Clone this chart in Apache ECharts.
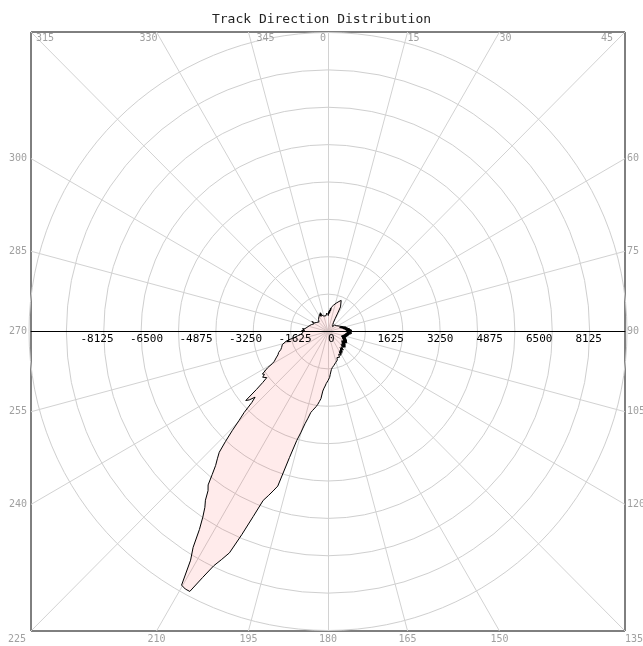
<!DOCTYPE html>
<html>
<head>
<meta charset="utf-8">
<script src="https://cdn.jsdelivr.net/npm/echarts@6/dist/echarts.min.js"></script>
<style>
html,body{margin:0;padding:0;background:#fff;}
#chart{width:643px;height:646px;}
</style>
</head>
<body>
<div id="chart"></div>
<script>
// ---------- data ----------
const chartTitle = 'Track Direction Distribution';
// one value per 1-degree direction bin, 0..359 (clockwise from north)
const counts = [
 600,520,650,580,700,620,760,680,800,740,
 820,780,880,840,920,900,960,940,1000,980,
 1040,1060,1080,1100,1120,1140,1120,900,650,480,
 420,350,400,300,360,280,330,260,310,240,
 290,230,280,220,270,250,300,240,280,230,
 300,260,320,250,310,270,340,280,330,290,
 360,300,380,320,400,330,420,350,450,380,
 480,400,520,420,560,450,600,480,620,500,
 650,520,700,560,720,580,760,600,780,620,
 800,640,760,620,780,600,740,580,700,560,
 680,540,660,520,640,500,620,480,600,460,
 620,480,640,500,660,520,680,540,700,560,
 720,580,700,560,680,540,700,560,720,580,
 740,600,760,620,740,600,720,640,760,660,
 780,680,760,660,800,700,820,720,840,740,
 860,760,880,800,900,820,920,860,940,880,
 960,900,980,940,1000,980,1040,1020,1080,1060,
 1120,1100,1160,1180,1220,1250,1300,1400,1500,1550,
 1600,1650,1700,1780,1850,1950,2200,2300,2400,2480,
 2550,2620,2700,2900,3100,3400,3700,4300,5300,5500,
 5700,5900,6500,7200,7900,8200,8500,9000,9600,9600,
 9550,8700,8300,7700,7300,7000,6800,6500,6350,6000,
 5700,5500,5300,4900,4500,4100,3800,3400,3200,3400,
 3500,3000,2700,2500,2500,2600,2500,2550,2530,2300,
 2100,2000,1950,1900,1850,1800,1780,1750,1700,1650,
 1600,1600,1580,1560,1550,1550,1500,1400,1300,1200,
 1100,1050,1000,950,900,850,880,820,860,800,
 840,780,860,760,820,800,840,760,800,720,
 780,700,760,680,740,660,720,640,700,620,
 680,600,660,580,640,560,620,540,600,520,
 580,540,620,520,600,500,580,480,560,470,
 540,460,520,450,510,440,500,430,500,420,
 490,430,500,440,520,450,540,460,560,480,
 580,500,600,520,620,540,640,560,660,580,
 640,560,620,540,600,520,580,500,560,480,
 540,500,560,520,580,540,600,560,620,580
];
const angleTicks = [0,15,30,45,60,75,90,105,120,135,150,165,180,195,210,225,240,255,270,285,300,315,330,345];
const radiusMax = 9750;
const radiusLabelStep = 1625;
const ringStep = 1218.75;

// ---------- helpers ----------
function edgePoint(deg){
  const t = deg*Math.PI/180, s = Math.sin(t), c = Math.cos(t);
  const m = Math.max(Math.abs(s), Math.abs(c));
  return [radiusMax*s/m, radiusMax*c/m];
}
function placement(deg){
  if (deg === 0)   return {align:'right', verticalAlign:'top', offset:[-2,1]};
  if (deg === 45)  return {align:'right', verticalAlign:'top', offset:[-12,1]};
  if (deg === 315) return {align:'left',  verticalAlign:'top', offset:[5,1]};
  if (deg === 330) return {align:'right', verticalAlign:'top', offset:[1,1]};
  if (deg === 345) return {align:'left',  verticalAlign:'top', offset:[8,1]};
  if (deg > 0 && deg < 45) return {align:'left', verticalAlign:'top', offset:[0,1]};
  if (deg > 45 && deg < 135) return {align:'left', verticalAlign:'middle', offset:[2,0]};
  if (deg === 135) return {align:'left', verticalAlign:'top', offset:[0,3]};
  if (deg > 135 && deg < 225) return {align:'center', verticalAlign:'top', offset:[0,3]};
  if (deg === 225) return {align:'right', verticalAlign:'top', offset:[-5,3]};
  return {align:'right', verticalAlign:'middle', offset:[-4,0]};
}

const polarData = counts.map((v,i)=>[v,i]);
polarData.push([counts[0],360]);

const spokeData = angleTicks.map(d=>({coords:[[0,0], edgePoint(d)]}));
const angleLabelData = angleTicks.map(d=>{
  const p = placement(d);
  return {value: edgePoint(d), name: String(d),
    label: {show:true, position:'inside', formatter:String(d), align:p.align, verticalAlign:p.verticalAlign, offset:p.offset,
      fontFamily:'DejaVu Sans Mono', fontSize:10, color:'#888888'}};
});

const gridH = 599;
const chart = echarts.init(document.getElementById('chart'), null, {renderer:'canvas'});
chart.setOption({
  animation:false,
  backgroundColor:'#ffffff',
  title:{text:chartTitle, left:'center', top:13, padding:0,
    textStyle:{fontFamily:'DejaVu Sans Mono', fontSize:13, fontWeight:'normal', color:'#222'}},
  grid:{left:31, top:32, width:594, height:gridH, show:true, borderColor:'#000', borderWidth:1, backgroundColor:'transparent'},
  xAxis:{type:'value', min:-radiusMax, max:radiusMax, interval:radiusLabelStep, position:'bottom', offset:-gridH/2, z:10,
    axisLine:{show:true, onZero:false, lineStyle:{color:'#000', width:1}},
    axisTick:{show:false}, splitLine:{show:false},
    axisLabel:{show:true, align:'left', margin:2, showMinLabel:false, showMaxLabel:false,
      formatter:function(v){return String(v);},
      fontFamily:'DejaVu Sans Mono', fontSize:11, color:'#000'}},
  yAxis:{type:'value', min:-radiusMax, max:radiusMax, show:true,
    axisLine:{show:false}, axisTick:{show:false}, axisLabel:{show:false}, splitLine:{show:false}},
  polar:{center:[328,331.5], radius:299},
  angleAxis:{type:'value', min:0, max:360, startAngle:90, clockwise:true, show:false,
    splitLine:{show:false}, axisLine:{show:false}, axisLabel:{show:false}, axisTick:{show:false}},
  radiusAxis:{type:'value', min:0, max:radiusMax, interval:ringStep,
    axisLine:{show:false}, axisTick:{show:false}, axisLabel:{show:false},
    splitLine:{show:true, lineStyle:{color:'#cfcfcf', width:1}}},
  series:[
    {type:'lines', coordinateSystem:'cartesian2d', data:spokeData, silent:true, z:1,
      lineStyle:{color:'#d2d2d2', width:1, opacity:1}, symbol:['none','none']},
    {type:'line', coordinateSystem:'polar', data:polarData, showSymbol:false, symbol:'none', z:3,
      lineStyle:{color:'#000', width:1}, areaStyle:{color:'rgba(255,0,0,0.11)'}},
    {type:'scatter', coordinateSystem:'cartesian2d', data:angleLabelData, symbolSize:0, clip:false, silent:true, z:5}
  ]
});
</script>
</body>
</html>
